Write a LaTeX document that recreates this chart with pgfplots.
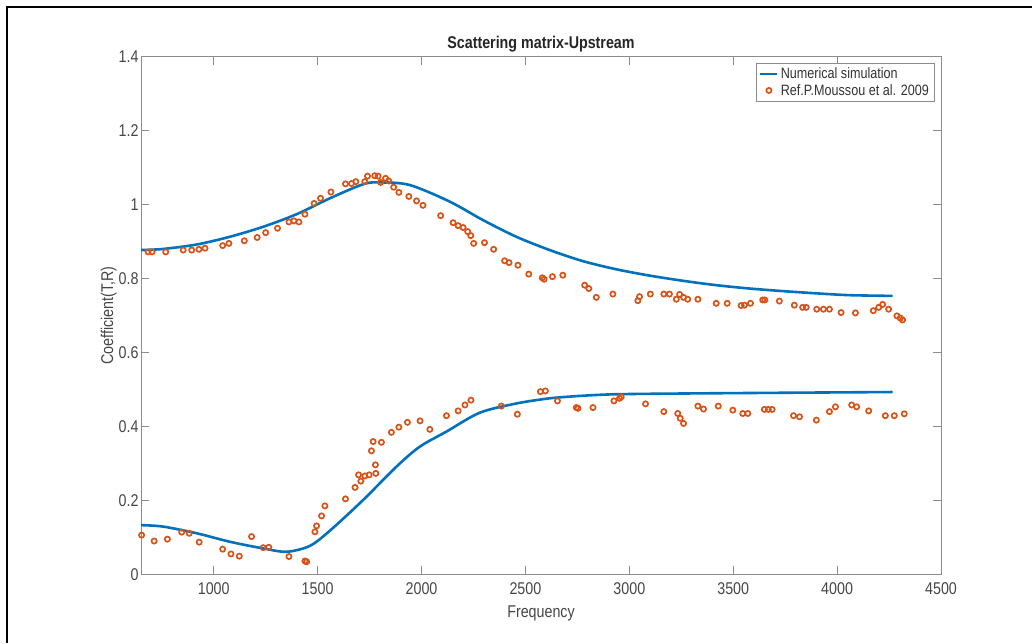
\documentclass[border=0pt]{standalone}
\usepackage{fontspec}
\setmainfont{Liberation Sans}[FakeStretch=0.84]
\usepackage{pgfplots}
\pgfplotsset{compat=1.18}
\definecolor{mblue}{RGB}{0,114,189}
\definecolor{morange}{RGB}{217,83,25}
\definecolor{axgray}{RGB}{140,140,140}
\definecolor{txgray}{RGB}{70,70,70}
\begin{document}
\begin{tikzpicture}[x=1pt,y=1pt]
\path[use as bounding box] (0,0) rectangle (1032,643);
\draw[black,line width=2pt] (7,0) -- (7,636) -- (1032,636);
\begin{axis}[
  at={(141pt,68.7pt)}, anchor=south west,
  scale only axis, width=800pt, height=517.6pt,
  xmin=650, xmax=4500, ymin=0, ymax=1.4,
  xtick={1000,1500,...,4500},
  ytick={0,0.2,...,1.4},
  tick align=inside, major tick length=8pt,
  axis line style={axgray, line width=1pt},
  every tick/.style={axgray, line width=0.8pt},
  /pgf/number format/assume math mode=true,
  scaled x ticks=false,
  xticklabel style={font=\fontsize{17}{18}\selectfont, text=txgray, yshift=-5pt},
  yticklabel style={font=\fontsize{17}{18}\selectfont, text=txgray, xshift=1pt},
  xticklabel={\pgfmathprintnumber[fixed,1000 sep={}]{\tick}},
  title={\bfseries Scattering matrix-Upstream},
  title style={font=\fontsize{17}{18}\selectfont, text=black!85, yshift=-5pt},
  xlabel={Frequency},
  ylabel={Coefficient(T,R)},
  label style={font=\fontsize{17}{18}\selectfont, text=txgray},
  xlabel style={yshift=-4pt},
  ylabel style={yshift=-5pt},
  legend style={at={(1,1)}, anchor=north east, xshift=-7pt, yshift=-6pt,
    draw=axgray, font=\fontsize{15}{16}\selectfont, text=black!80,
    inner xsep=3pt, inner ysep=3pt, row sep=0pt, cells={anchor=west}},
  legend cell align=left,
]
\addplot[mblue, line width=2.6pt, smooth] coordinates {
(650,0.877) (757,0.880) (918,0.892) (1078,0.913) (1238,0.940) (1399,0.974)
(1559,1.017) (1719,1.055) (1799,1.060) (1943,1.053) (2136,1.008) (2296,0.958)
(2456,0.913) (2617,0.877) (2777,0.847) (2937,0.825) (3097,0.808) (3257,0.794)
(3418,0.782) (3578,0.773) (3738,0.766) (3899,0.760) (4059,0.755) (4267,0.753)};
\addlegendentry{Numerical simulation}
\addplot[mblue, line width=2.6pt, smooth, forget plot] coordinates {
(650,0.133) (757,0.129) (918,0.111) (1078,0.088) (1238,0.070) (1351,0.061)
(1463,0.077) (1559,0.118) (1719,0.201) (1879,0.291) (1991,0.345) (2120,0.386)
(2280,0.437) (2456,0.462) (2617,0.476) (2777,0.483) (2937,0.487) (3257,0.489)
(3738,0.491) (4267,0.493)};
\addplot[only marks, mark=o, mark size=2.6pt, morange, mark options={line width=1.7pt}] coordinates {
(684,0.872) (703,0.872) (769,0.872) (853,0.877) (894,0.877) (929,0.879)
(958,0.882) (1043,0.889) (1073,0.895) (1147,0.902) (1209,0.911) (1250,0.924)
(1307,0.936) (1362,0.953) (1386,0.956) (1410,0.953) (1439,0.974) (1483,1.003)
(1514,1.017) (1564,1.034) (1634,1.056) (1663,1.057) (1684,1.062) (1727,1.062)
(1740,1.077) (1775,1.078) (1791,1.077) (1803,1.060) (1827,1.071) (1842,1.064)
(1866,1.047) (1891,1.033) (1939,1.022) (1976,1.010) (2007,0.998) (2092,0.970)
(2152,0.951) (2176,0.943) (2200,0.938) (2222,0.927) (2237,0.916) (2251,0.895)
(2303,0.897) (2347,0.879) (2400,0.848) (2421,0.843) (2464,0.836) (2516,0.812)
(2581,0.802) (2590,0.798) (2630,0.805) (2680,0.809) (2785,0.782) (2805,0.773)
(2841,0.749) (2921,0.758) (3041,0.740) (3049,0.751) (3101,0.758) (3166,0.758)
(3193,0.758) (3226,0.744) (3242,0.757) (3261,0.749) (3281,0.744) (3330,0.744)
(3418,0.733) (3471,0.733) (3538,0.727) (3554,0.728) (3583,0.733) (3642,0.742)
(3652,0.742) (3722,0.739) (3794,0.728) (3834,0.722) (3851,0.722) (3902,0.717)
(3934,0.717) (3963,0.717) (4019,0.708) (4088,0.707) (4174,0.713) (4200,0.722)
(4219,0.730) (4248,0.717) (4288,0.699) (4304,0.693) (4315,0.688)};
\addlegendentry{Ref.P.Moussou et al. 2009}
\addplot[only marks, mark=o, mark size=2.6pt, morange, mark options={line width=1.7pt}, forget plot] coordinates {
(653,0.106) (713,0.090) (777,0.095) (846,0.114) (882,0.111) (930,0.087)
(1043,0.068) (1083,0.055) (1123,0.049) (1182,0.102) (1238,0.072) (1265,0.073)
(1362,0.048) (1439,0.036) (1447,0.034) (1487,0.115) (1495,0.131) (1519,0.158)
(1535,0.185) (1634,0.204) (1680,0.235) (1697,0.269) (1708,0.252) (1727,0.266)
(1748,0.269) (1759,0.334) (1767,0.359) (1778,0.296) (1780,0.273) (1807,0.357)
(1855,0.384) (1891,0.398) (1932,0.411) (1993,0.415) (2040,0.392) (2120,0.429)
(2176,0.442) (2209,0.458) (2238,0.471) (2384,0.455) (2461,0.433) (2572,0.494)
(2596,0.496) (2654,0.469) (2745,0.451) (2753,0.449) (2825,0.451) (2926,0.469)
(2953,0.476) (2961,0.480) (3078,0.461) (3166,0.440) (3233,0.435) (3245,0.422)
(3261,0.408) (3330,0.455) (3357,0.447) (3428,0.455) (3498,0.444) (3546,0.435)
(3570,0.435) (3650,0.446) (3669,0.446) (3687,0.446) (3790,0.429) (3819,0.426)
(3900,0.417) (3963,0.440) (3992,0.453) (4070,0.458) (4094,0.453) (4152,0.442)
(4232,0.429) (4275,0.429) (4323,0.434)};
\end{axis}
\end{tikzpicture}
\end{document}
